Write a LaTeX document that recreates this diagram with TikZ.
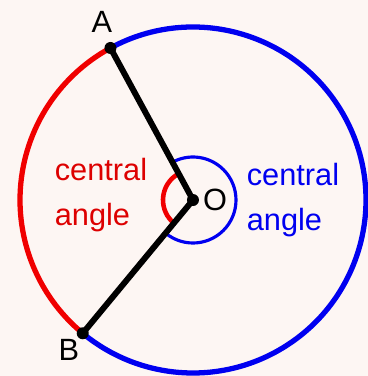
\documentclass[tikz,border=0pt]{standalone}
\usepackage{fontspec}
\setmainfont{Liberation Sans}
\usetikzlibrary{positioning, calc}
\definecolor{bgpink}{HTML}{FDF6F3}
\definecolor{arcred}{HTML}{F00000}
\definecolor{arcblue}{HTML}{0000F0}
\definecolor{txtred}{HTML}{DD0000}
\begin{document}
\begin{tikzpicture}[font=\fontsize{17.5}{26}\selectfont]
    \fill[bgpink] (-3.86,-3.52) rectangle (3.5,4.0);
    \useasboundingbox (-3.86,-3.52) rectangle (3.5,4.0);
    \coordinate (O) at (0,0);
    \coordinate (A) at (118.5:3.46);
    \coordinate (B) at (230.4:3.46);
    \draw[arcblue, line width=3pt] (A) arc (118.5:-129.6:3.46);
    \draw[arcred, line width=3pt] (A) arc (118.5:230.4:3.46);
    \draw[arcred, line width=2.6pt] (118.5:0.6) arc (118.5:230.4:0.6);
    \draw[arcblue, line width=1.8pt] (230.4:0.86) arc (230.4:478.5:0.86);
    \draw[line width=3.4pt] (A) -- (O) -- (B);
    \foreach \p in {A,B,O}
      \fill (\p) circle (0.12);
    \node (labA) at (-1.82,3.56) {A};
    \node (labB) at (-2.48,-3.0) {B};
    \node (labO) at (0.44,0) {O};
    \node[text=txtred, align=left] (redtxt) at (-1.84,0.1) {central\\angle};
    \node[text=arcblue, align=left] (bluetxt) at (2.0,0) {central\\angle};
  \end{tikzpicture}
\end{document}
